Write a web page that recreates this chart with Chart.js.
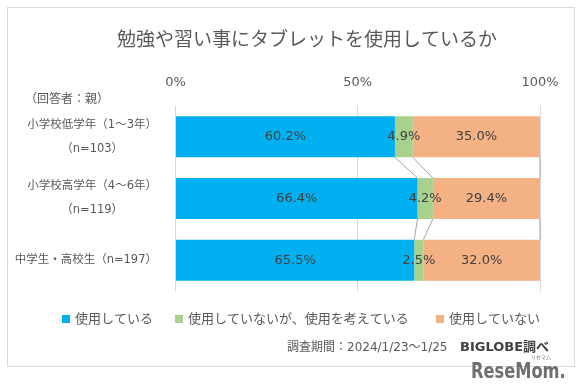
<!DOCTYPE html>
<html>
<head>
<meta charset="utf-8">
<script src="https://cdn.jsdelivr.net/npm/chart.js@4/dist/chart.umd.min.js"></script>
<style>
  html, body { margin: 0; padding: 0; background: #fff; }
</style>
</head>
<body>
<canvas id="chart" width="582" height="392"></canvas>
<script>
// data
const categories = [
    ['小学校低学年（1～3年）', '（n=103）'],
    ['小学校高学年（4～6年）', '（n=119）'],
    ['中学生・高校生（n=197）']
];
const usingNow = [60.2, 66.4, 65.5];
const considering = [4.9, 4.2, 2.5];
const notUsing = [35.0, 29.4, 32.0];
const seriesNames = ['使用している', '使用していないが、使用を考えている', '使用していない'];
const xTickValues = [0, 50, 100];

const colors = ['#00B0F0', '#A9D18E', '#F4B183'];
const textGray = '#595959';
const jpFont = '"Noto Sans CJK JP", "Noto Sans", sans-serif';
// latin glyphs from DejaVu (close to Meiryo's Verdana-like digits), kana/kanji fall back
const mixFont = '"DejaVu Sans", "Noto Sans CJK JP", sans-serif';

const ctx = document.getElementById('chart').getContext('2d');

const extras = {
    id: 'extras',
    beforeDraw(chart) {
        const c = chart.ctx;
        c.save();
        c.fillStyle = '#fff';
        c.fillRect(0, 0, chart.width, chart.height);
        c.strokeStyle = '#d9d9d9';
        c.lineWidth = 1;
        c.strokeRect(7.5, 7.5, 567, 359);
        c.restore();
    },
    afterDatasetsDraw(chart) {
        const c = chart.ctx;
        c.save();
        // series lines between bars
        c.strokeStyle = '#a6a6a6';
        c.lineWidth = 1;
        chart.data.datasets.forEach((ds, d) => {
            const bars = chart.getDatasetMeta(d).data;
            for (let i = 0; i < bars.length - 1; i++) {
                const a = bars[i], b = bars[i + 1];
                c.beginPath();
                c.moveTo(Math.min(a.x, chart.chartArea.right), a.y + a.height / 2);
                c.lineTo(Math.min(b.x, chart.chartArea.right), b.y - b.height / 2);
                c.stroke();
            }
        });
        // value labels
        c.font = '13px ' + mixFont;
        c.fillStyle = '#404040';
        c.textAlign = 'center';
        c.textBaseline = 'middle';
        chart.data.datasets.forEach((ds, d) => {
            chart.getDatasetMeta(d).data.forEach((bar, i) => {
                const x = (Math.min(bar.x, chart.chartArea.right) + bar.base) / 2;
                c.fillText(ds.data[i].toFixed(1) + '%', x, bar.y);
            });
        });
        c.restore();
    },
    afterDraw(chart) {
        const c = chart.ctx;
        const yScale = chart.scales.y;
        c.save();
        c.textBaseline = 'middle';

        // title
        c.fillStyle = textGray;
        c.font = '19px ' + jpFont;
        c.textAlign = 'center';
        c.fillText('勉強や習い事にタブレットを使用しているか', 307, 39);

        // respondent note
        c.font = '12px ' + jpFont;
        c.textAlign = 'left';
        c.fillText('（回答者：親）', 25, 98);

        // category labels, lines centred in a right-aligned block
        c.font = '11.5px ' + mixFont;
        categories.forEach((lines, i) => {
            const cy = yScale.getPixelForValue(i);
            const w = Math.max(...lines.map(t => c.measureText(t).width));
            const cx = 157 - w / 2;
            c.textAlign = 'center';
            lines.forEach((t, k) => {
                const y = cy + (k - (lines.length - 1) / 2) * 24;
                c.fillText(t, cx, y);
            });
        });

        // legend
        const legendX = [62, 175, 436];
        c.font = '13px ' + jpFont;
        c.textAlign = 'left';
        seriesNames.forEach((name, i) => {
            c.fillStyle = colors[i];
            c.fillRect(legendX[i], 315, 8, 8);
            c.fillStyle = textGray;
            c.fillText(name, legendX[i] + 13, 318);
        });

        // footer
        c.font = '12px ' + mixFont;
        c.fillStyle = textGray;
        c.fillText('調査期間：2024/1/23～1/25', 287, 348);
        c.font = 'bold 13px ' + mixFont;
        c.fillStyle = '#404040';
        c.fillText('BIGLOBE調べ', 460, 348);

        // logo
        c.fillStyle = '#6e6e6e';
        c.textBaseline = 'alphabetic';
        c.save();
        c.translate(471, 378);
        c.scale(0.86, 1);
        c.font = 'bold 21px "DejaVu Sans Condensed", "DejaVu Sans", sans-serif';
        c.fillText('ReseMom.', 0, 0);
        c.restore();
        c.font = '5px ' + jpFont;
        c.fillText('リセマム', 531, 359);
        c.restore();
    }
};

const myChart = new Chart(ctx, {
    type: 'bar',
    data: {
        labels: categories.map(l => l.join(' ')),
        datasets: [
            { label: seriesNames[0], data: usingNow, backgroundColor: colors[0] },
            { label: seriesNames[1], data: considering, backgroundColor: colors[1] },
            { label: seriesNames[2], data: notUsing, backgroundColor: colors[2] }
        ]
    },
    options: {
        indexAxis: 'y',
        responsive: false,
        animation: false,
        categoryPercentage: 1,
        barPercentage: 0.665,
        layout: { padding: { left: 0, top: 60, right: 42, bottom: 101 } },
        plugins: {
            legend: { display: false },
            title: { display: false },
            tooltip: { enabled: false }
        },
        scales: {
            x: {
                position: 'top',
                stacked: true,
                min: 0,
                max: 100,
                afterBuildTicks: axis => {
                    axis.ticks = xTickValues.map(v => ({ value: v }));
                },
                afterFit: axis => { axis.height = 46; },
                ticks: {
                    callback: v => v + '%',
                    color: textGray,
                    font: { size: 13, family: mixFont },
                    padding: 16,
                    maxRotation: 0
                },
                grid: { color: '#d9d9d9', drawTicks: false },
                border: { display: false }
            },
            y: {
                stacked: true,
                afterFit: axis => { axis.width = 175.5; },
                ticks: { display: false },
                grid: { display: false },
                border: { display: false }
            }
        }
    },
    plugins: [extras]
});
</script>
</body>
</html>
